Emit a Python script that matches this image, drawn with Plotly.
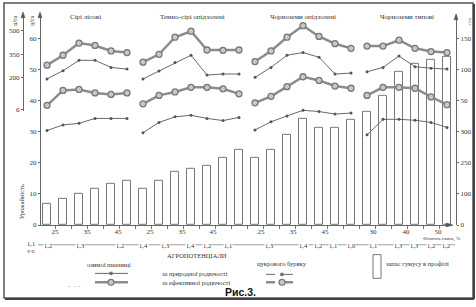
import plotly.graph_objects as go

W, H = 476, 307
def X(px): return px / W
def Y(py): return 1 - py / H

# ---------------- data ----------------
groups = ["Сірі лісові", "Темно-сірі опідзолені", "Чорноземи опідзолені", "Чорноземи типові"]
group_sizes = [6, 7, 7, 6]

# humus reserve bars (read on the inner left scale)
humus = [6.8, 8.4, 10.2, 11.7, 13.4, 14.1,
         11.5, 14.1, 17.2, 18.0, 19.0, 21.6, 24.2,
         21.6, 24.2, 29.0, 34.1, 31.3, 31.4, 34.0,
         36.4, 41.7, 49.4, 52.0, 53.1, 54.2]

# sugar beet yield, ц/га (outer left axis)
beet_eff = [[281, 344, 421, 406, 371, 361],
            [300, 350, 458, 496, 377, 375, 377],
            [304, 371, 458, 531, 463, 417, 388],
            [402, 402, 439, 388, 367, 361]]
beet_nat = [[194, 246, 312, 312, 267, 256],
            [194, 244, 298, 344, 219, 225, 225],
            [204, 267, 344, 361, 331, 225, 231],
            [239, 267, 339, 271, 262, 256]]
# winter wheat yield, ц/га (inner left axis)
wheat_eff = [[38.5, 43.3, 43.6, 42.5, 42.0, 42.5],
             [39.0, 41.7, 42.8, 44.3, 44.3, 43.8, 42.2],
             [39.3, 41.4, 44.5, 47.7, 46.5, 44.7, 44.0],
             [41.7, 44.3, 44.3, 44.0, 41.2, 38.7]]
wheat_nat = [[30.4, 32.2, 32.7, 34.3, 34.3, 34.3],
             [29.7, 33.0, 34.8, 35.3, 34.3, 33.6, 34.6],
             [30.6, 33.2, 35.1, 36.9, 36.5, 35.7, 36.0],
             [29.0, 34.0, 34.0, 33.7, 33.0, 31.4]]

clay_pos = [0.5, 2.5, 4.44, 6.44, 8.44, 10.38, 13.38, 15.38, 17.38, 20.38, 22.44, 24.44]
clay_text = ["25", "35", "45", "25", "35", "45", "25", "35", "45", "30", "40", "50"]

agro_px = [48, 80, 120, 143, 165, 190, 207, 228, 269, 303, 318, 333, 351, 373, 398, 414, 431, 446]
agro_text = ["1,2", "1,3", "1,2", "1,4", "1,3", "1,4", "1,2", "1,1", "1,3", "1,4",
             "1,2", "1,1", "1,0", "1,1", "1,3", "1,3", "1,2", "1,2"]

left_outer_ticks = [0, 200, 350, 500]
inner_ticks = [0, 10, 20, 30, 40, 50, 60]
right_tick_text = ["0", "100", "250", "300", "50", "100", "150"]

# -------------- helpers ---------------
def seq(vals_by_group):
    xs, ys = [], []
    start = 0
    for g, n in zip(vals_by_group, group_sizes):
        xs += list(range(start, start + n)) + [None]
        ys += list(g) + [None]
        start += n
    return xs, ys

GRAY_T = "#8c8c8c"
GRAY_L = "#6a6a6a"
TXT = "#333333"
SERIF = "Liberation Serif"

fig = go.Figure()

fig.add_trace(go.Bar(x=list(range(len(humus))), y=humus, width=0.44,
                     marker=dict(color="rgba(255,255,255,0)", line=dict(color="#777", width=1)),
                     yaxis="y", xaxis="x", showlegend=False))

thick = dict(color=GRAY_T, width=2.5)
thick_m = dict(symbol="circle", size=6, color="#c8c8c8", line=dict(color="#777", width=1.3))
thin = dict(color=GRAY_L, width=1)
thin_m = dict(symbol="circle", size=3, color="#555")

for data, ax, ln, mk in [(beet_eff, "y2", thick, thick_m), (beet_nat, "y2", thin, thin_m),
                         (wheat_eff, "y", thick, thick_m), (wheat_nat, "y", thin, thin_m)]:
    xs, ys = seq(data)
    fig.add_trace(go.Scatter(x=xs, y=ys, mode="lines+markers", line=ln, marker=mk,
                             xaxis="x", yaxis=ax, showlegend=False, connectgaps=False,
                             cliponaxis=False))

x_lo, x_hi = (40 - 47) / 16, (452 - 47) / 16
y_top = (228 - 15) / 3.15

axfont = dict(family=SERIF, size=7, color=TXT)
fig.update_layout(
    width=W, height=H, margin=dict(l=0, r=0, t=0, b=0),
    paper_bgcolor="white", plot_bgcolor="rgba(0,0,0,0)",
    bargap=0,
    xaxis=dict(domain=[X(40), X(452)], range=[x_lo, x_hi], anchor="y",
               showline=True, linecolor="#666", linewidth=1, showgrid=False, zeroline=False,
               tickvals=clay_pos, ticktext=clay_text, ticks="", ticklen=0,
               tickcolor="#666", tickfont=axfont,
               minor=dict(dtick=1, tick0=0.5, ticks="outside", ticklen=3, tickcolor="#777")),
    yaxis=dict(domain=[Y(228), Y(15)], range=[0, y_top], anchor="free", position=X(40),
               showline=True, linecolor="#666", linewidth=1, showgrid=False, zeroline=False,
               tickvals=inner_ticks, ticks="outside", ticklen=2, tickcolor="#666", tickfont=axfont),
    yaxis2=dict(domain=[Y(112), Y(15)], range=[(111 - 112) * 6.25, (111 - 15) * 6.25],
                anchor="free", position=X(23),
                showline=True, linecolor="#666", linewidth=1, showgrid=False, zeroline=False,
                tickvals=left_outer_ticks, ticks="outside", ticklen=2, tickcolor="#666",
                tickfont=axfont),
    yaxis3=dict(overlaying="y", side="right", anchor="free", position=X(456), range=[0, y_top],
                showline=True, linecolor="#666", linewidth=1, showgrid=False, zeroline=False,
                tickvals=inner_ticks, ticktext=right_tick_text, ticks="outside", ticklen=2,
                tickcolor="#666", tickfont=axfont),
)
# dummy trace to show y3
fig.add_trace(go.Scatter(x=[None], y=[None], yaxis="y3", xaxis="x", showlegend=False))

shapes = []
# frame
shapes.append(dict(type="rect", xref="paper", yref="paper", x0=X(4), y0=Y(302), x1=X(473), y1=Y(3),
                   line=dict(color="#555", width=1.5)))
shapes.append(dict(type="line", xref="paper", yref="paper", x0=X(5), y0=Y(303), x1=X(474), y1=Y(303),
                   line=dict(color="#444", width=2)))
shapes.append(dict(type="line", xref="paper", yref="paper", x0=X(474), y0=Y(4), x1=X(474), y1=Y(303),
                   line=dict(color="#444", width=2)))
# agropotential line
shapes.append(dict(type="line", xref="paper", yref="paper", x0=X(38), y0=Y(248), x1=X(455), y1=Y(248),
                   line=dict(color="#888", width=0.8)))
# arrowheads
def tri_up(px, py):
    return dict(type="path", xref="paper", yref="paper",
                path=f"M {X(px-2)} {Y(py+6)} L {X(px)} {Y(py)} L {X(px+2)} {Y(py+6)} Z",
                fillcolor="#555", line=dict(color="#555", width=0.5))
for px, py in [(23, 12), (40, 12), (456, 14)]:
    shapes.append(tri_up(px, py))
shapes.append(dict(type="path", xref="paper", yref="paper",
                   path=f"M {X(446)} {Y(226)} L {X(453)} {Y(228)} L {X(446)} {Y(230)} Z",
                   fillcolor="#555", line=dict(color="#555", width=0.5)))
# legend symbols
def leg_line(x0, x1, py, w, dash, col):
    return dict(type="line", xref="paper", yref="paper", x0=X(x0), y0=Y(py), x1=X(x1), y1=Y(py),
                line=dict(color=col, width=w, dash=dash))
def leg_circ(px, py, r, fill):
    return dict(type="circle", xref="paper", yref="paper", x0=X(px - r), y0=Y(py + r), x1=X(px + r),
                y1=Y(py - r), fillcolor=fill, line=dict(color="#777", width=1.2))
shapes += [leg_line(95, 128, 277, 1, "solid", GRAY_L), leg_circ(111, 277, 1.3, "#555"),
           leg_line(95, 128, 286, 2.5, "solid", GRAY_T), leg_circ(111, 286, 3, "#c8c8c8"),
           leg_line(266, 299, 278, 1, "dash", GRAY_L), leg_circ(282, 278, 1.3, "#555"),
           leg_line(266, 299, 286, 2.5, "dash", GRAY_T), leg_circ(282, 286, 3, "#c8c8c8")]
shapes.append(dict(type="rect", xref="paper", yref="paper", x0=X(373), y0=Y(282), x1=X(381), y1=Y(258),
                   line=dict(color="#777", width=1), fillcolor="rgba(0,0,0,0)"))
fig.update_layout(shapes=shapes)

ann = []
def T(px, py, text, size=7, xanchor="center", angle=0, family=SERIF, bg=None, color=TXT):
    d = dict(x=X(px), y=Y(py), xref="paper", yref="paper", text=text, showarrow=False,
             xanchor=xanchor, yanchor="middle", textangle=angle,
             font=dict(family=family, size=size, color=color))
    if bg:
        d["bgcolor"] = bg
        d["borderpad"] = 0
    ann.append(d)

title_x = [85, 192, 303, 407]
for g, px in zip(groups, title_x):
    T(px, 17, g, 7)
T(15, 21, "ц/га", 6, angle=-90)
T(32, 21, "ц/га", 6, angle=-90)
T(470, 22, "т/га", 5, angle=-90)
T(21, 205, "Урожайність", 6.5, angle=-90)
T(441, 242, "Фізична глина, %", 5)
for px, t in zip(agro_px, agro_text):
    T(px, 249, t, 6.5, bg="white")
T(31, 247, "1,1", 6.5, bg="white")
T(31, 255, "У/Е", 5)
T(197, 259, "АГРОПОТЕНЦІАЛИ", 6.5)
T(109, 268, "озимої пшениці", 6.5)
T(160, 277, "за природної родючості", 6.5, xanchor="left")
T(160, 286, "за ефективної родючості", 6.5, xanchor="left")
T(282, 267, "цукрового буряку", 6.5)
T(384, 267, "запас гумусу в профілі", 6.5, xanchor="left")
T(74, 290, "-   - -", 6, color="#888")
T(240, 296, "<b>Рис.3.</b>", 10.5, family="Liberation Sans", color="#111")
fig.update_layout(annotations=ann)

fig.write_html("out.html")
